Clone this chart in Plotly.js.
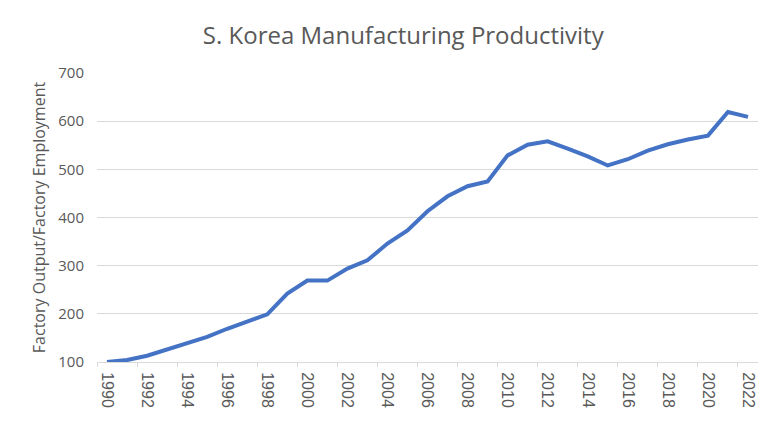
<!DOCTYPE html>
<html>
<head>
<meta charset="utf-8">
<script src="https://cdn.plot.ly/plotly-3.0.1.min.js"></script>
<style>html,body{margin:0;padding:0;background:#fff;}#chart{width:780px;height:422px;}</style>
</head>
<body>
<div id="chart"></div>
<script>
const years = [1990,1991,1992,1993,1994,1995,1996,1997,1998,1999,2000,2001,2002,2003,2004,2005,2006,2007,2008,2009,2010,2011,2012,2013,2014,2015,2016,2017,2018,2019,2020,2021,2022];
const productivity = [100,104,113,126,139,152,169,185,199,242,269,269,294,311,346,373,413,444,465,475,529,551,558,543,527,508,521,539,552,562,570,619,609];
const tickYears = [1990,1992,1994,1996,1998,2000,2002,2004,2006,2008,2010,2012,2014,2016,2018,2020,2022];
const tickText = tickYears.map(String);
const yTicks = [100,200,300,400,500,600,700];

const grey = '#595959';
const gridCol = '#d9d9d9';

Plotly.newPlot('chart', [{
  x: years,
  y: productivity,
  type: 'scatter',
  mode: 'lines',
  line: {color: '#4472C4', width: 4},
  hoverinfo: 'skip'
}], {
  width: 780, height: 422,
  margin: {l: 97, r: 22, t: 73, b: 60},
  paper_bgcolor: '#ffffff', plot_bgcolor: '#ffffff',
  showlegend: false,
  title: {
    text: 'S. Korea Manufacturing Productivity',
    font: {family: 'Open Sans, sans-serif', size: 24, color: grey},
    x: 0.517, xanchor: 'center', y: 0.915, yanchor: 'middle'
  },
  xaxis: {
    range: [1989.5, 2022.5],
    tickmode: 'array', tickvals: tickYears, ticktext: tickText,
    tickangle: 90,
    ticks: '',
    ticklabelstandoff: 6,
    tickfont: {family: 'Liberation Sans, Arial, sans-serif', size: 16, color: grey},
    showgrid: false, zeroline: false,
    showline: true, linecolor: gridCol, linewidth: 1,
    minor: {tickmode: 'linear', tick0: 1989.5, dtick: 2, ticks: 'outside', ticklen: 4, tickcolor: gridCol, showgrid: false}
  },
  yaxis: {
    range: [100, 700],
    tickmode: 'array', tickvals: yTicks,
    ticks: '',
    ticklabelstandoff: 12,
    tickfont: {family: 'Open Sans, sans-serif', size: 15, color: grey},
    showgrid: true, gridcolor: gridCol, gridwidth: 1,
    zeroline: false, showline: false,
    title: {text: 'Factory Output/Factory Employment', font: {family: 'Open Sans, sans-serif', size: 16, color: grey}, standoff: 8}
  }
}, {displayModeBar: false, staticPlot: true});
</script>
</body>
</html>
